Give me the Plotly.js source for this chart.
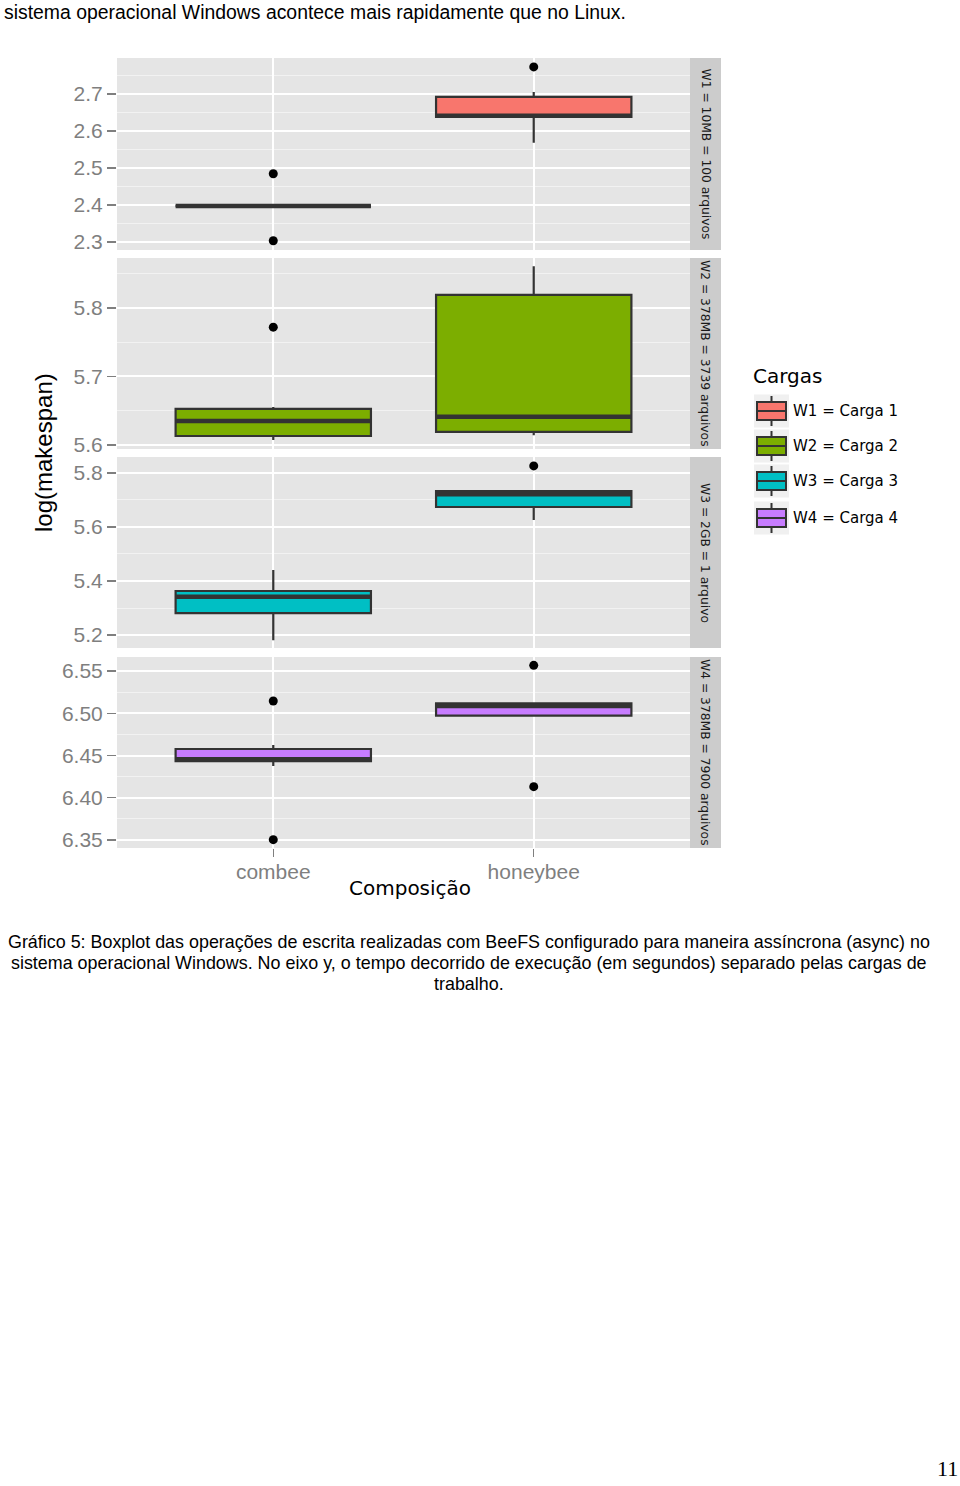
<!DOCTYPE html>
<html>
<head>
<meta charset="utf-8">
<script src="https://cdn.plot.ly/plotly-3.0.1.min.js"></script>
<style>
  html, body { margin: 0; padding: 0; background: #ffffff; }
  #chart { width: 960px; height: 1486px; }
</style>
</head>
<body>
<div id="chart"></div>
<script>
// ---------- data ----------
const categories = ['combee', 'honeybee'];
const workloads = ['W1', 'W2', 'W3', 'W4'];
const stripLabels = [
  'W1 = 10MB = 100 arquivos',
  'W2 = 378MB = 3739 arquivos',
  'W3 = 2GB = 1 arquivo',
  'W4 = 378MB = 7900 arquivos'
];
const legendTitle = 'Cargas';
const legendLabels = ['W1 = Carga 1', 'W2 = Carga 2', 'W3 = Carga 3', 'W4 = Carga 4'];
const fillColors = ['#F8766D', '#7CAE00', '#00BFC4', '#C77CFF'];

// per workload: [combee, honeybee]
const q1Values = [[2.397, 2.638], [5.613, 5.619], [5.281, 5.674], [6.4433, 6.4971]];
const medianValues = [[2.397, 2.641], [5.635, 5.641], [5.342, 5.721], [6.4456, 6.5086]];
const q3Values = [[2.397, 2.692], [5.6526, 5.819], [5.363, 5.733], [6.4577, 6.5118]];
const lowerWhiskers = [[2.397, 2.568], [5.607, 5.614], [5.181, 5.626], [6.4376, 6.496]];
const upperWhiskers = [[2.397, 2.705], [5.6555, 5.861], [5.441, 5.733], [6.4624, 6.5118]];

const outlierX = [
  ['combee', 'combee', 'honeybee'],
  ['combee'],
  ['honeybee'],
  ['combee', 'combee', 'honeybee', 'honeybee']
];
const outlierY = [
  [2.484, 2.303, 2.773],
  [5.772],
  [5.826],
  [6.5145, 6.3504, 6.5567, 6.4131]
];

const yTickVals = [
  [2.3, 2.4, 2.5, 2.6, 2.7],
  [5.6, 5.7, 5.8],
  [5.2, 5.4, 5.6, 5.8],
  [6.35, 6.40, 6.45, 6.50, 6.55]
];
const yTickText = [
  ['2.3', '2.4', '2.5', '2.6', '2.7'],
  ['5.6', '5.7', '5.8'],
  ['5.2', '5.4', '5.6', '5.8'],
  ['6.35', '6.40', '6.45', '6.50', '6.55']
];
const xTitle = 'Composição';
const yTitle = 'log(makespan)';
const headerText = 'sistema operacional Windows acontece mais rapidamente que no Linux.';
const captionLines = [
  'Gráfico 5: Boxplot das operações de escrita realizadas com BeeFS configurado para maneira assíncrona (async) no',
  'sistema operacional Windows. No eixo y, o tempo decorrido de execução (em segundos) separado pelas cargas de',
  'trabalho.'
];
const pageNumber = '11';

// ---------- layout geometry (pixels on the page) ----------
const W = 960, H = 1486;
const px = x => x / W;
const py = y => 1 - y / H;
const plotLeft = 117, plotRight = 690, stripRight = 721;
const panelTops = [58, 258, 457, 657];
const panelBottoms = [250, 449, 648, 848];
const yRanges = [[2.278, 2.797], [5.594, 5.873], [5.152, 5.859], [6.3405, 6.5666]];
const minorSteps = [[2.25, 0.05], [5.55, 0.05], [5.1, 0.1], [6.325, 0.025]];
const boxWidth = 0.75;

const sansFont = 'Liberation Sans, Arial, Helvetica, sans-serif';
const dejavu = 'DejaVu Sans, Verdana, sans-serif';
const tickGrey = '#7F7F7F';
const lineDark = '#333333';

const traces = [];
const layout = {
  width: W, height: H,
  margin: {l: 0, r: 0, t: 0, b: 0, pad: 0},
  paper_bgcolor: '#ffffff',
  plot_bgcolor: '#E5E5E5',
  showlegend: false,
  shapes: [],
  annotations: []
};

workloads.forEach((w, i) => {
  const sfx = i === 0 ? '' : String(i + 1);
  const xa = 'x' + sfx, ya = 'y' + sfx;
  traces.push({
    type: 'box',
    name: w,
    xaxis: xa, yaxis: ya,
    x: categories,
    q1: q1Values[i],
    median: medianValues[i],
    q3: q3Values[i],
    lowerfence: lowerWhiskers[i],
    upperfence: upperWhiskers[i],
    boxpoints: false,
    width: boxWidth,
    whiskerwidth: 0,
    fillcolor: fillColors[i],
    line: {color: lineDark, width: 2.2},
    hoverinfo: 'skip'
  });
  traces.push({
    type: 'scatter',
    mode: 'markers',
    xaxis: xa, yaxis: ya,
    x: outlierX[i],
    y: outlierY[i],
    marker: {color: '#000000', size: 9},
    hoverinfo: 'skip'
  });

  // thicker median bars (ggplot style), placed on the data axes
  categories.forEach((c, k) => {
    layout.shapes.push({
      type: 'line', xref: xa, yref: ya,
      x0: k - boxWidth / 2, x1: k + boxWidth / 2,
      y0: medianValues[i][k], y1: medianValues[i][k],
      line: {color: lineDark, width: 4.5}, layer: 'above'
    });
  });

  layout['xaxis' + sfx] = {
    domain: [px(plotLeft), px(plotRight)],
    anchor: ya,
    type: 'category',
    categoryorder: 'array',
    categoryarray: categories,
    range: [-0.6, 1.6],
    matches: i === 0 ? undefined : 'x',
    showgrid: true, gridcolor: '#FFFFFF', gridwidth: 2,
    zeroline: false, showline: false,
    showticklabels: i === 3,
    ticks: i === 3 ? 'outside' : '',
    ticklen: 8, tickwidth: 1.5, tickcolor: tickGrey,
    ticklabelstandoff: -3,
    tickfont: {family: sansFont, size: 21, color: tickGrey}
  };
  layout['yaxis' + sfx] = {
    domain: [py(panelBottoms[i]), py(panelTops[i])],
    anchor: xa,
    range: yRanges[i],
    tickmode: 'array',
    tickvals: yTickVals[i],
    ticktext: yTickText[i],
    showgrid: true, gridcolor: '#FFFFFF', gridwidth: 2,
    minor: {
      tickmode: 'linear', tick0: minorSteps[i][0], dtick: minorSteps[i][1],
      showgrid: true, gridcolor: '#F2F2F2', gridwidth: 1, ticks: ''
    },
    zeroline: false, showline: false,
    ticks: 'outside', ticklen: 9, tickwidth: 1.5, tickcolor: tickGrey,
    tickfont: {family: sansFont, size: 21, color: tickGrey}
  };

  // facet strip
  layout.shapes.push({
    type: 'rect', xref: 'paper', yref: 'paper',
    x0: px(plotRight), x1: px(stripRight),
    y0: py(panelBottoms[i]), y1: py(panelTops[i]),
    fillcolor: '#CCCCCC', line: {width: 0}, layer: 'below'
  });
  layout.annotations.push({
    xref: 'paper', yref: 'paper',
    x: px((plotRight + stripRight) / 2), y: py((panelTops[i] + panelBottoms[i]) / 2),
    text: stripLabels[i], textangle: 90, showarrow: false,
    xanchor: 'center', yanchor: 'middle',
    font: {family: dejavu, size: 12.3, color: '#1A1A1A'}
  });
});

// ---------- legend (drawn manually, ggplot style) ----------
const keyCenters = [411, 446, 481, 518];
const keyLeft = 754, keyRight = 789, boxLeft = 757, boxRight = 786;
layout.annotations.push({
  xref: 'paper', yref: 'paper', x: px(751), y: py(376),
  xanchor: 'left', yanchor: 'middle', showarrow: false,
  text: legendTitle, font: {family: dejavu, size: 20, color: '#000000'}
});
legendLabels.forEach((lab, i) => {
  const c = keyCenters[i];
  layout.shapes.push(
    {type: 'rect', xref: 'paper', yref: 'paper', x0: px(keyLeft), x1: px(keyRight),
     y0: py(c + 16.5), y1: py(c - 16.5), fillcolor: '#F0F0F0', line: {width: 0}},
    {type: 'line', xref: 'paper', yref: 'paper', x0: px(771.5), x1: px(771.5),
     y0: py(c - 15), y1: py(c + 15), line: {color: lineDark, width: 2}},
    {type: 'rect', xref: 'paper', yref: 'paper', x0: px(boxLeft), x1: px(boxRight),
     y0: py(c + 9), y1: py(c - 9), fillcolor: fillColors[i], line: {color: lineDark, width: 2}},
    {type: 'line', xref: 'paper', yref: 'paper', x0: px(boxLeft), x1: px(boxRight),
     y0: py(c), y1: py(c), line: {color: lineDark, width: 2}}
  );
  layout.annotations.push({
    xref: 'paper', yref: 'paper', x: px(791), y: py(c),
    xanchor: 'left', yanchor: 'middle', showarrow: false,
    text: lab, font: {family: dejavu, size: 15, color: '#000000'}
  });
});

// ---------- axis titles ----------
layout.annotations.push(
  {xref: 'paper', yref: 'paper', x: px(410), y: py(888), xanchor: 'center', yanchor: 'middle',
   showarrow: false, text: xTitle, font: {family: dejavu, size: 20, color: '#000000'}},
  {xref: 'paper', yref: 'paper', x: px(44), y: py(453), xanchor: 'center', yanchor: 'middle',
   showarrow: false, textangle: -90, text: yTitle, font: {family: sansFont, size: 24, color: '#000000'}}
);

// ---------- page text ----------
layout.annotations.push({
  xref: 'paper', yref: 'paper', x: px(2), y: py(12), xanchor: 'left', yanchor: 'middle',
  showarrow: false, text: headerText, font: {family: sansFont, size: 19.4, color: '#000000'}
});
captionLines.forEach((t, i) => {
  layout.annotations.push({
    xref: 'paper', yref: 'paper', x: px(469), y: py(942 + i * 21), xanchor: 'center', yanchor: 'middle',
    showarrow: false, text: t, font: {family: sansFont, size: 17.9, color: '#000000'}
  });
});
layout.annotations.push({
  xref: 'paper', yref: 'paper', x: px(960), y: py(1468), xanchor: 'right', yanchor: 'middle',
  showarrow: false, text: pageNumber, font: {family: 'Liberation Serif, Times New Roman, serif', size: 22, color: '#000000'}
});

Plotly.newPlot('chart', traces, layout, {displayModeBar: false, staticPlot: true});
</script>
</body>
</html>
